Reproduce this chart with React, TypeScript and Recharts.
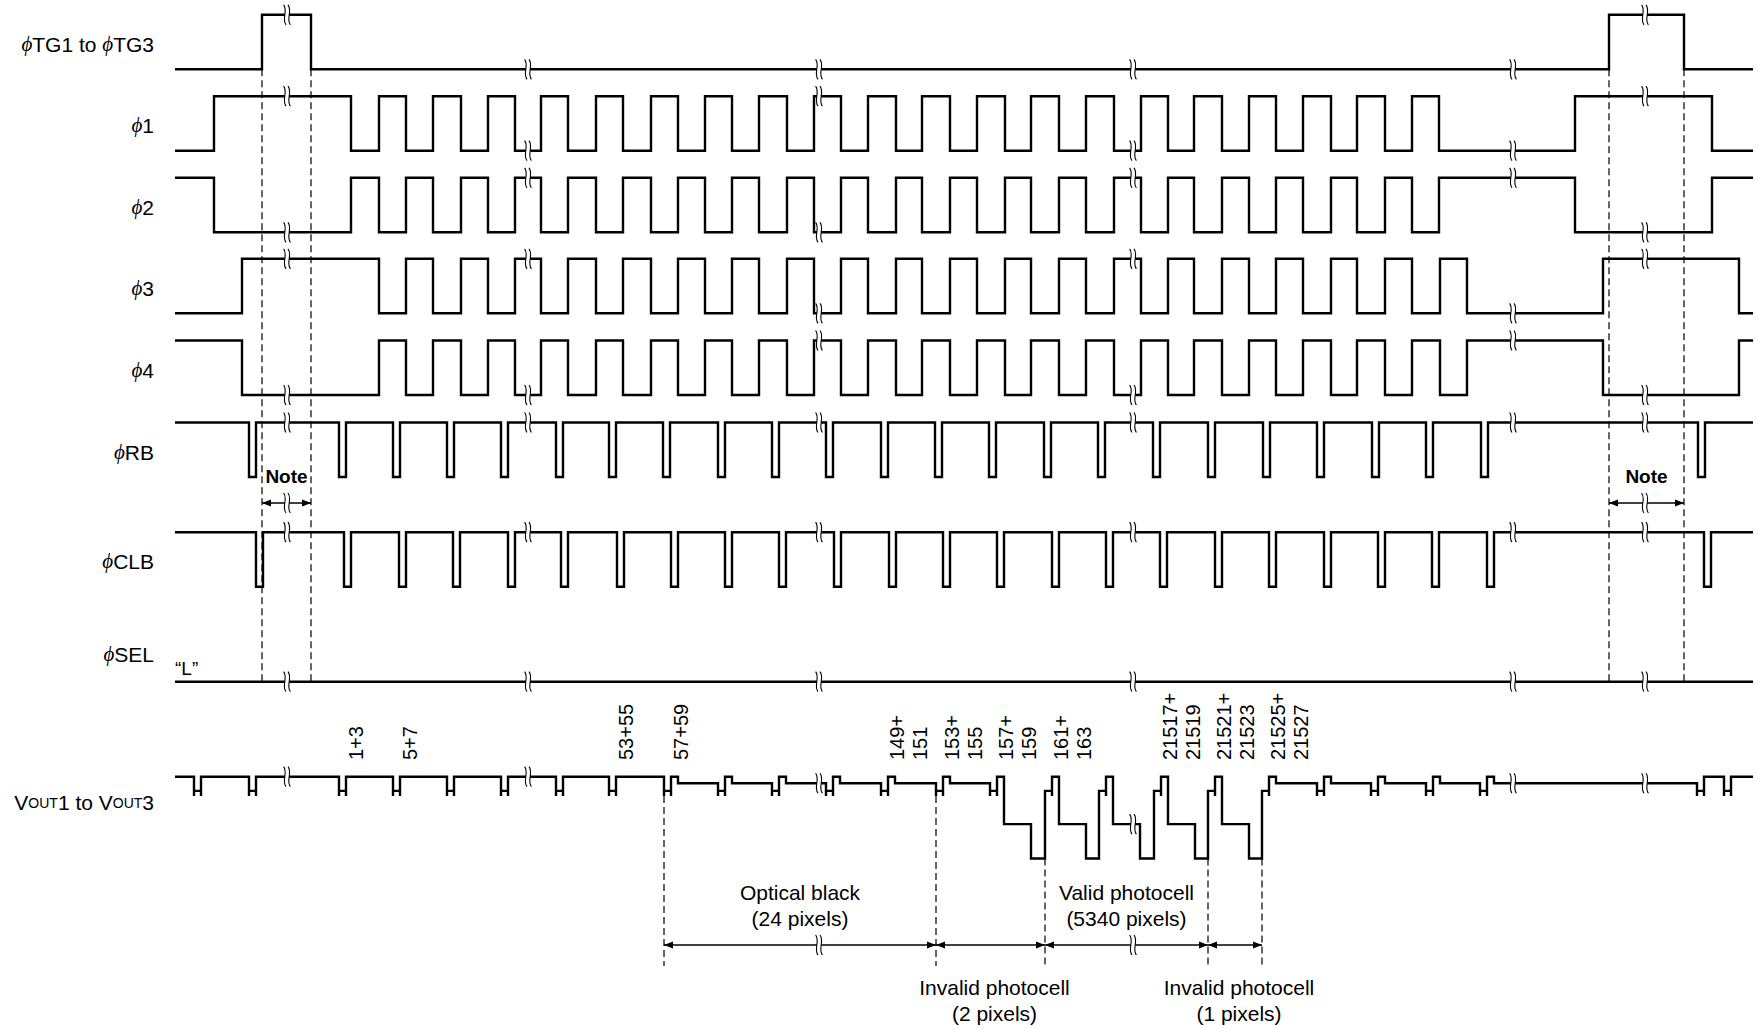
import React from "react";
import { ComposedChart, Line, Scatter, XAxis, YAxis } from "recharts";

const W = 1758;
const H = 1029;
const FONT = "'Liberation Sans', Arial, Helvetica, sans-serif";

// ---- timing data (time in chart units) ----
const T_START = 175;
const T_END = 1753;

const tgEdges = [262, 311, 1609, 1684];
const phi1Edges = [
  214, 351, 379, 406, 433, 461, 488, 515, 541, 568, 596, 623, 651, 678, 705, 732, 759, 787, 814, 841, 868, 896,
  922, 950, 977, 1005, 1031, 1059, 1086, 1114, 1141, 1168, 1194, 1222, 1249, 1276, 1303, 1331, 1357, 1385, 1412,
  1439, 1575, 1712,
];
const phi3Edges = [
  242, 379, 406, 433, 461, 488, 515, 541, 568, 596, 623, 651, 678, 705, 732, 759, 787, 814, 841, 868, 896, 922,
  950, 977, 1005, 1031, 1059, 1086, 1114, 1141, 1168, 1194, 1222, 1249, 1276, 1303, 1331, 1357, 1385, 1412, 1440,
  1467, 1603, 1739,
];
const rbPulses = [
  249, 339, 393, 447, 501, 556, 609, 663, 718, 772, 826, 881, 935, 989, 1044, 1098, 1153, 1208, 1263, 1317, 1372,
  1426, 1481, 1698,
];
const clbPulses = [
  256, 344, 399, 453, 508, 561, 617, 671, 725, 779, 834, 889, 943, 997, 1052, 1106, 1160, 1215, 1269, 1324, 1378,
  1432, 1487, 1704,
];
const PULSE_W = 7;

const voutResets = [
  194, 249, 339, 393, 447, 501, 556, 609, 664, 718, 772, 826, 881, 936, 990, 1045, 1099, 1154, 1208, 1262, 1317,
  1371, 1426, 1480, 1697, 1724,
];
const voutKind = [
  "ref", "ref", "ref", "ref", "ref", "ref", "ref", "ref",
  "ob", "ob", "ob", "ob", "ob", "ob",
  "valid", "valid", "valid", "valid", "valid",
  "ob", "ob", "ob", "ob", "ob",
  "ref", "ref",
];
// output levels in units of one clock swing (negative = lower)
const voutLevel = { ref: 0, ob: -0.12, resetBar: -0.26, resetLow: -0.355, mid: -0.87, deep: -1.5 };
const RESET_W = 7;
const FEED_W = 7;
const MID_W = 27;

const breakTimes = [287, 528, 819, 1133, 1513, 1645];

const signalNames = ["ϕTG1 to ϕTG3", "ϕ1", "ϕ2", "ϕ3", "ϕ4", "ϕRB", "ϕCLB", "ϕSEL"];

const pixelLabels = [
  { at: 339, lines: ["1+3"] },
  { at: 393, lines: ["5+7"] },
  { at: 609, lines: ["53+55"] },
  { at: 664, lines: ["57+59"] },
  { at: 881, lines: ["149+", "151"] },
  { at: 936, lines: ["153+", "155"] },
  { at: 990, lines: ["157+", "159"] },
  { at: 1045, lines: ["161+", "163"] },
  { at: 1154, lines: ["21517+", "21519"] },
  { at: 1208, lines: ["21521+", "21523"] },
  { at: 1262, lines: ["21525+", "21527"] },
];

const regions = [
  { from: 664, to: 936, lines: ["Optical black", "(24 pixels)"], above: true },
  { from: 936, to: 1045, lines: ["Invalid photocell", "(2 pixels)"], above: false },
  { from: 1045, to: 1208, lines: ["Valid photocell", "(5340 pixels)"], above: true },
  { from: 1208, to: 1262, lines: ["Invalid photocell", "(1 pixels)"], above: false },
];

// ---- layout ----
const AMP = 54.5;
const rowBase = [69.3, 150.7, 232.3, 313.3, 395, 477, 586.7, 681.7];
const VOUT_BASE = 776.7;
const NOTE_Y = 503;
const SPAN_Y = 945;

type Pt = { t: number; y: number };

function edgesToPoints(edges: number[], start: number, base: number): Pt[] {
  let lv = start;
  const y = (l: number) => base - l * AMP;
  const pts: Pt[] = [{ t: T_START, y: y(lv) }];
  edges.forEach((e) => {
    pts.push({ t: e, y: y(lv) });
    lv = 1 - lv;
    pts.push({ t: e, y: y(lv) });
  });
  pts.push({ t: T_END, y: y(lv) });
  return pts;
}

const pulsesToEdges = (p: number[]) => p.flatMap((s) => [s, s + PULSE_W]);

function voutPoints(): Pt[] {
  const y = (l: number) => VOUT_BASE - l * AMP;
  let cur = 0;
  const pts: Pt[] = [{ t: T_START, y: y(0) }];
  voutResets.forEach((r, i) => {
    const k = voutKind[i];
    pts.push(
      { t: r, y: y(cur) },
      { t: r, y: y(voutLevel.resetLow) },
      { t: r, y: y(voutLevel.resetBar) },
      { t: r + RESET_W, y: y(voutLevel.resetBar) },
      { t: r + RESET_W, y: y(voutLevel.resetLow) },
      { t: r + RESET_W, y: y(0) },
      { t: r + RESET_W + FEED_W, y: y(0) }
    );
    const s = r + RESET_W + FEED_W;
    if (k === "valid") {
      pts.push(
        { t: s, y: y(voutLevel.mid) },
        { t: s + MID_W, y: y(voutLevel.mid) },
        { t: s + MID_W, y: y(voutLevel.deep) }
      );
      cur = voutLevel.deep;
    } else {
      cur = k === "ob" ? voutLevel.ob : voutLevel.ref;
      pts.push({ t: s, y: y(cur) });
    }
  });
  pts.push({ t: T_END, y: y(cur) });
  return pts;
}

const yAt = (pts: Pt[], t: number) => {
  let y = pts[0].y;
  for (const p of pts) if (p.t <= t) y = p.y;
  return y;
};

const signals: Pt[][] = [
  edgesToPoints(tgEdges, 0, rowBase[0]),
  edgesToPoints(phi1Edges, 0, rowBase[1]),
  edgesToPoints(phi1Edges, 1, rowBase[2]),
  edgesToPoints(phi3Edges, 0, rowBase[3]),
  edgesToPoints(phi3Edges, 1, rowBase[4]),
  edgesToPoints(pulsesToEdges(rbPulses), 1, rowBase[5]),
  edgesToPoints(pulsesToEdges(clbPulses), 1, rowBase[6]),
  edgesToPoints([], 0, rowBase[7]),
  voutPoints(),
];

// dashed guide lines
const guides: Pt[][] = [
  ...tgEdges.map((t) => [
    { t, y: rowBase[0] },
    { t, y: rowBase[7] },
  ]),
  ...[regions[0].from, ...regions.map((r) => r.to)].map((t) => {
    const i = voutResets.indexOf(t);
    const prevValid = i > 0 && voutKind[i - 1] === "valid";
    const top = VOUT_BASE - (prevValid ? voutLevel.deep : voutLevel.resetLow) * AMP;
    return [
      { t, y: top },
      { t, y: 966 },
    ];
  }),
];

// arrows (shaft from/to at y)
const arrows = [
  { from: tgEdges[0], to: tgEdges[1], y: NOTE_Y },
  { from: tgEdges[2], to: tgEdges[3], y: NOTE_Y },
  ...regions.map((r) => ({ from: r.from, to: r.to, y: SPAN_Y })),
];
const arrowHeads = arrows.flatMap((a) => [
  { t: a.from, y: a.y, dir: -1 },
  { t: a.to, y: a.y, dir: 1 },
]);

const breakPts = [
  ...signals.flatMap((pts) => breakTimes.map((t) => ({ t, y: yAt(pts, t) }))),
  { t: breakTimes[0], y: NOTE_Y },
  { t: breakTimes[5], y: NOTE_Y },
  { t: breakTimes[2], y: SPAN_Y },
  { t: breakTimes[3], y: SPAN_Y },
];

type TextItem = {
  t: number;
  y: number;
  text: string;
  anchor?: string;
  size: number;
  bold?: boolean;
  rotate?: boolean;
  vout?: boolean;
};

const textPts: TextItem[] = [
  ...signalNames.map((n, i) => ({
    t: 154,
    y: i === 7 ? rowBase[7] - 28 : rowBase[i] - AMP / 2 + 2,
    text: n,
    anchor: "end",
    size: 21,
  })),
  { t: 154, y: VOUT_BASE + 26, text: "VOUT1 to VOUT3", anchor: "end", size: 21, vout: true },
  { t: 175, y: rowBase[7] - 14, text: "“L”", anchor: "start", size: 19 },
  { t: (tgEdges[0] + tgEdges[1]) / 2, y: NOTE_Y - 27, text: "Note", anchor: "middle", size: 19, bold: true },
  { t: (tgEdges[2] + tgEdges[3]) / 2, y: NOTE_Y - 27, text: "Note", anchor: "middle", size: 19, bold: true },
  ...pixelLabels.flatMap((p) =>
    p.lines.map((l, j) => ({
      t: p.at + (p.lines.length === 1 ? 17 : 16 + j * 23),
      y: 760,
      text: l,
      size: 20,
      rotate: true,
    }))
  ),
  ...regions.flatMap((r) =>
    r.lines.map((l, j) => ({
      t: (r.from + r.to) / 2 + (r.above ? 0 : 4),
      y: (r.above ? 892 : 986.5) + j * 26,
      text: l,
      anchor: "middle",
      size: 21,
    }))
  ),
];

function renderPhi(s: string) {
  const parts = s.split("ϕ");
  const out: React.ReactNode[] = [];
  parts.forEach((p, i) => {
    if (i > 0)
      out.push(
        <tspan key={`f${i}`} fontStyle="italic" fontFamily="'Liberation Serif', 'DejaVu Serif', serif">
          ϕ
        </tspan>
      );
    if (p) out.push(<tspan key={`p${i}`}>{p}</tspan>);
  });
  return out;
}

const BreakMark = (props: any) => {
  const { cx, cy } = props;
  if (cx == null || cy == null) return null;
  const s = (x: number) => `M${x - 1.2},${cy - 10} C${x + 3.5},${cy - 4} ${x - 3.5},${cy + 4} ${x + 1.2},${cy + 10}`;
  return (
    <g>
      <rect x={cx - 2.2} y={cy - 3} width={4.4} height={6} fill="#fff" />
      <path d={s(cx - 2.2)} stroke="#000" strokeWidth={1.1} fill="none" />
      <path d={s(cx + 2.2)} stroke="#000" strokeWidth={1.1} fill="none" />
    </g>
  );
};

const ArrowHead = (props: any) => {
  const { cx, cy, payload } = props;
  if (cx == null || cy == null) return null;
  const d = payload.dir;
  return <polygon points={`${cx},${cy} ${cx - d * 9},${cy - 3.5} ${cx - d * 9},${cy + 3.5}`} fill="#000" />;
};

const TextMark = (props: any) => {
  const { cx, cy, payload } = props;
  if (cx == null || cy == null) return null;
  const p: TextItem = payload;
  const common = { fontFamily: FONT, fontSize: p.size, fill: "#000", fontWeight: p.bold ? 700 : 400 };
  if (p.rotate)
    return (
      <text x={cx} y={cy} transform={`rotate(-90 ${cx} ${cy})`} textAnchor="start" dominantBaseline="central" {...common}>
        {p.text}
      </text>
    );
  if (p.vout)
    return (
      <text x={cx} y={cy} textAnchor="end" dominantBaseline="central" {...common}>
        V<tspan fontSize={14}>OUT</tspan>1 to V<tspan fontSize={14}>OUT</tspan>3
      </text>
    );
  return (
    <text x={cx} y={cy} textAnchor={p.anchor as any} dominantBaseline="central" {...common}>
      {renderPhi(p.text)}
    </text>
  );
};

export default function App() {
  return (
    <div style={{ position: "absolute", left: 0, top: 0, width: W, height: H, background: "#fff" }}>
      <ComposedChart width={W} height={H} margin={{ top: 0, right: 0, bottom: 0, left: 0 }}>
        <XAxis type="number" dataKey="t" domain={[0, W]} hide allowDataOverflow />
        <YAxis type="number" dataKey="y" domain={[0, H]} reversed hide allowDataOverflow />
        {guides.map((g, i) => (
          <Line
            key={`g${i}`}
            data={g}
            dataKey="y"
            type="linear"
            stroke="#000"
            strokeWidth={1.2}
            strokeDasharray="7 4"
            dot={false}
            activeDot={false}
            isAnimationActive={false}
          />
        ))}
        {arrows.map((a, i) => (
          <Line
            key={`a${i}`}
            data={[
              { t: a.from, y: a.y },
              { t: a.to, y: a.y },
            ]}
            dataKey="y"
            type="linear"
            stroke="#000"
            strokeWidth={1.3}
            dot={false}
            activeDot={false}
            isAnimationActive={false}
          />
        ))}
        {signals.map((pts, i) => (
          <Line
            key={`s${i}`}
            data={pts}
            dataKey="y"
            type="linear"
            stroke="#000"
            strokeWidth={2.4}
            strokeLinejoin="miter"
            dot={false}
            activeDot={false}
            isAnimationActive={false}
          />
        ))}
        <Scatter data={breakPts} dataKey="y" shape={BreakMark} isAnimationActive={false} />
        <Scatter data={arrowHeads} dataKey="y" shape={ArrowHead} isAnimationActive={false} />
        <Scatter data={textPts} dataKey="y" shape={TextMark} isAnimationActive={false} />
      </ComposedChart>
    </div>
  );
}
